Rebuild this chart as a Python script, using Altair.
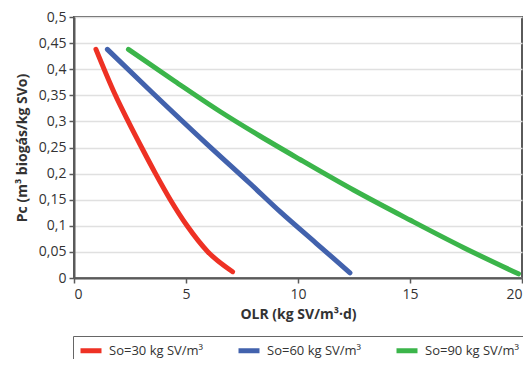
import altair as alt
import pandas as pd

series_labels = ["So=30 kg SV/m³", "So=60 kg SV/m³", "So=90 kg SV/m³"]
series_colors = ["#EE3124", "#4262AD", "#3BB54A"]

olr_30 = [0.98, 1.85, 2.42, 3.02, 3.64, 4.30, 5.05, 5.98, 7.08]
pc_30 = [0.438, 0.350, 0.300, 0.250, 0.200, 0.150, 0.100, 0.050, 0.012]

olr_60 = [1.49, 3.5, 5.9, 7.86, 9.2, 10.8, 12.32]
pc_60 = [0.438, 0.355, 0.258, 0.181, 0.127, 0.067, 0.010]

olr_90 = [2.43, 4.5, 6.52, 8.3, 10.09, 12.5, 15.0, 17.4, 19.84]
pc_90 = [0.438, 0.377, 0.319, 0.272, 0.227, 0.168, 0.111, 0.058, 0.008]

x_ticks = [0, 5, 10, 15, 20]
y_ticks = [0, 0.05, 0.1, 0.15, 0.2, 0.25, 0.3, 0.35, 0.4, 0.45, 0.5]

rows = []
for lab, xs, ys in zip(series_labels, [olr_30, olr_60, olr_90], [pc_30, pc_60, pc_90]):
    for xv, yv in zip(xs, ys):
        rows.append({"serie": lab, "olr": xv, "pc": yv})
df = pd.DataFrame(rows)

FONT = "Open Sans"

chart = alt.Chart(df).mark_line(strokeWidth=5, strokeCap="round", interpolate="monotone").encode(
    x=alt.X("olr:Q",
            scale=alt.Scale(domain=[0, 20], nice=False),
            axis=alt.Axis(values=x_ticks, title="OLR (kg SV/m³·d)", grid=False,
                          tickSize=5, labelPadding=4, titlePadding=6)),
    y=alt.Y("pc:Q",
            scale=alt.Scale(domain=[0, 0.5], nice=False),
            axis=alt.Axis(values=y_ticks, title="Pc (m³ biogás/kg SVo)", grid=True,
                          labelExpr="replace(format(datum.value, '.2~f'), '.', ',')",
                          tickSize=5, labelPadding=3, titlePadding=9)),
    color=alt.Color("serie:N",
                    scale=alt.Scale(domain=series_labels, range=series_colors),
                    legend=alt.Legend(orient="none", legendX=-1, legendY=319,
                                      direction="horizontal", columns=3, title=None,
                                      symbolType="M-2,0H4", symbolSize=49, symbolStrokeWidth=5,
                                      labelFontSize=13, labelFont=FONT, labelColor="#333333",
                                      labelOffset=15, columnPadding=24, padding=8,
                                      strokeColor="#666666", labelLimit=0)),
    detail="serie:N",
).properties(
    width=448,
    height=261,
    autosize=alt.AutoSizeParams(type="none"),
    padding={"left": 66, "top": 9, "right": 1, "bottom": 81},
).configure_view(
    stroke="#5a5a5a", strokeWidth=2
).configure_axis(
    labelFont=FONT, labelFontSize=14, labelColor="#333333",
    titleFont=FONT, titleFontSize=14, titleFontWeight="bold", titleColor="#333333",
    domainColor="#5a5a5a", domainWidth=2, tickColor="#5a5a5a", tickWidth=1.5,
    gridColor="#e0e0e0", gridWidth=1.5,
)

chart.save("out.html", embed_options={"renderer": "svg", "actions": False})
